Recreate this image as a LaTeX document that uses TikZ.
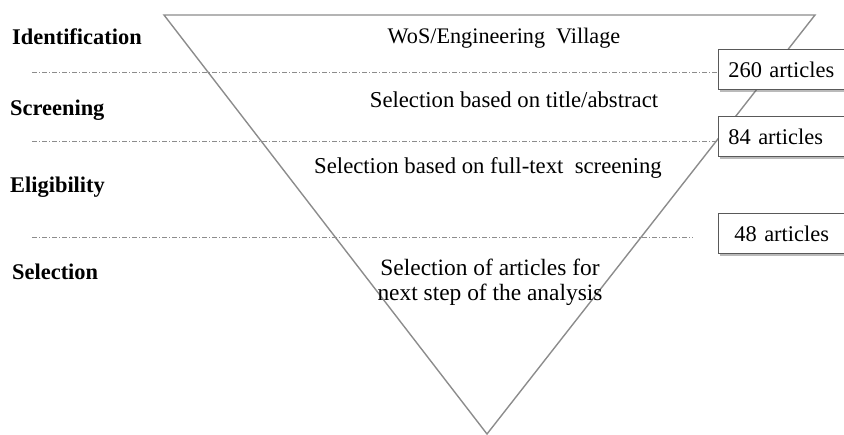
\documentclass[tikz,border=0pt]{standalone}
\usepackage{fontspec}
\setmainfont{Liberation Serif}
\usetikzlibrary{shadows}
\begin{document}
\begin{tikzpicture}[x=1bp,y=-1bp,
  stage/.style={anchor=west,inner sep=0pt,font=\fontsize{22.5}{26}\selectfont\bfseries},
  body/.style={inner sep=0pt,font=\fontsize{22.8}{25}\selectfont,align=center},
  countbox/.style={draw=black!65,fill=white,line width=0.8bp,anchor=north west,
    minimum height=40bp,text width=115bp,inner xsep=10bp,inner ysep=0pt,align=left,
    font=\fontsize{22.5}{25}\selectfont,
    drop shadow={shadow xshift=2bp,shadow yshift=-3bp,opacity=0.45,fill=black!60}},
  sep/.style={draw=black!45,line width=0.8bp,dash pattern=on 5bp off 2bp on 1bp off 2bp},
  tri/.style={draw=black!45,line width=1.4bp,line join=miter}]
\useasboundingbox (0,0) rectangle (844,435);

% triangle
\coordinate (tl) at (164,15);
\coordinate (tr) at (815,15);
\coordinate (ap) at (487,434);
\draw[tri] (tl) -- (tr) -- (ap) -- cycle;

% count boxes
\node[countbox] (b1) at (718,49) {260 articles};
\node[countbox] (b2) at (718,116) {84 articles};
\node[countbox,inner xsep=16bp] (b3) at (718,213) {48 articles};

% separators
\coordinate (s1) at (32,72);
\coordinate (s2) at (32,141);
\coordinate (s3) at (32,237);
\coordinate (e3) at (693,237);
\draw[sep] (s1) -- (s1 -| b1.west);
\draw[sep] (s2) -- (s2 -| b2.west);
\draw[sep] (s3) -- (e3);

% stage labels
\node[stage] (l1) at (12,37) {Identification};
\node[stage] (l2) at (10,110) {Screening};
\node[stage] (l3) at (10,187) {Eligibility};
\node[stage] (l4) at (12,272) {Selection};

% inner texts
\node[body,font=\fontsize{22.3}{25}\selectfont] (t1) at (504,38) {WoS/Engineering\ \ Village};
\node[body] (t2) at (514,100) {Selection based on title/abstract};
\node[body] (t3) at (488,168) {Selection based on full-text\ \ screening};
\node[body,font=\fontsize{23.5}{25}\selectfont] (t4) at (490,282) {Selection of articles for\\next step of the analysis};
\end{tikzpicture}
\end{document}
